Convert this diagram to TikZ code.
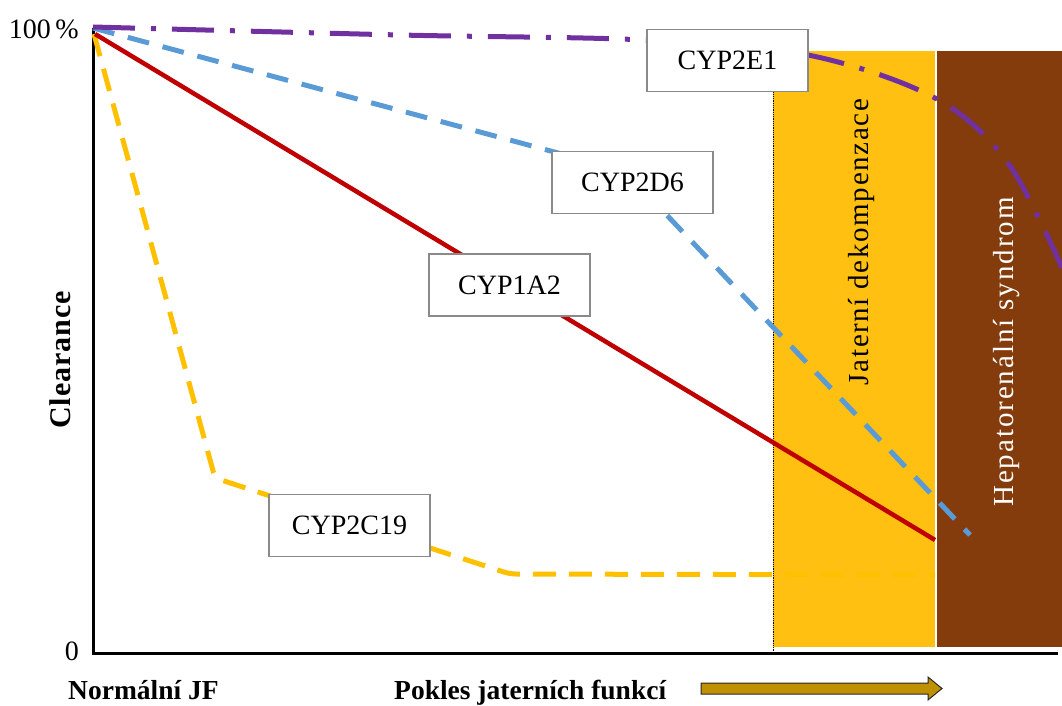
\documentclass[tikz,border=0pt]{standalone}
\usepackage{fontspec}
\setmainfont{Liberation Serif}
\definecolor{cred}{HTML}{C00000}
\definecolor{cblue}{HTML}{5B9BD5}
\definecolor{cyel}{HTML}{FFC000}
\definecolor{cpur}{HTML}{7030A0}
\definecolor{bandY}{HTML}{FFC012}
\definecolor{bandB}{HTML}{843C0C}
\definecolor{boxgray}{HTML}{8A8A8A}
\definecolor{arrowgold}{HTML}{BF9000}
\begin{document}
\begin{tikzpicture}[x=1pt,y=-1pt,
  lbl/.style={draw=boxgray, line width=1.6pt, fill=white, minimum width=161pt, minimum height=62pt, inner sep=0pt, font=\fontsize{28}{30}\selectfont},
  axisline/.style={line width=3pt, black},
  redline/.style={cred, line width=4.5pt},
  blueline/.style={cblue, line width=5pt, dash pattern=on 22pt off 14pt, rounded corners=6pt},
  yelline/.style={cyel, line width=5pt, dash pattern=on 23pt off 13pt, rounded corners=6pt},
  purline/.style={cpur, line width=5pt, dash pattern=on 42pt off 16pt on 5pt off 16pt},
  ticklbl/.style={font=\fontsize{28}{30}\selectfont, inner sep=0pt},
  bottomlbl/.style={font=\fontsize{27.5}{30}\selectfont\bfseries, inner sep=0pt, anchor=base west},
  bandlbl/.style={inner sep=0pt, anchor=base, rotate=90},
  arrowbody/.style={fill=arrowgold, draw=black!85, line width=1pt, line join=miter}
]
\useasboundingbox (0,0) rectangle (1062,706);
% bands
\fill[bandY] (773,51) rectangle (935,647);
\fill[bandB] (937,51) rectangle (1062,647);
\draw[densely dotted, line width=0.8pt] (773,51) -- (773,653);
% axes
\coordinate (top) at (93,28);
\coordinate (O) at (93,653);
\coordinate (xend) at (1058,653);
\draw[axisline] (top) -- (O) -- (xend);
% data points
\coordinate (r0) at (95,34);
\coordinate (r1) at (935,540);
\coordinate (b0) at (93,28);
\coordinate (b1) at (625,171);
\coordinate (b2) at (970,535);
\coordinate (y0) at (94,34);
\coordinate (y1) at (215,478);
\coordinate (y2) at (510,574);
\coordinate (y3) at (935,575);
\coordinate (p0) at (93,27);
\coordinate (p1) at (400,35);
\coordinate (p2) at (645,40);
\coordinate (p3) at (808,55);
\coordinate (p4) at (935,98);
\coordinate (p5) at (1008,163);
\coordinate (p6) at (1062,268);
% curves
\draw[yelline] (y0) -- (y1) -- (y2) -- (y3);
\draw[redline] (r0) -- (r1);
\draw[blueline] (b0) -- (b1) -- (b2);
\draw[purline] plot[smooth, tension=0.55] coordinates {(p0) (p1) (p2) (p3) (p4) (p5) (p6)};
% labels
\node[lbl] (e1) at (727.5,60.5) {CYP2E1};
\node[lbl] (d6) at (632.5,182.5) {CYP2D6};
\node[lbl] (a2) at (509.5,285) {CYP1A2};
\node[lbl] (c19) at (349.5,525.5) {CYP2C19};
% axis labels
\node[ticklbl, anchor=base east] (hundred) at (79,39) {100\,\%};
\node[ticklbl, anchor=base east] (zero) at (79,660) {0};
\node[inner sep=0pt, anchor=base, rotate=90, font=\fontsize{30}{32}\selectfont\bfseries\addfontfeature{LetterSpace=3}] (clr) at (70,360) {Clearance};
\node[bottomlbl] (njf) at (68,699) {Normální JF};
\node[bottomlbl] (pokles) at (394,699) {Pokles jaterních funkcí};
\draw[arrowbody] (701,683) -- (928,683) -- (928,677) -- (942,688.5) -- (928,700) -- (928,694) -- (701,694) -- cycle;
% band labels
\node[bandlbl, font=\fontsize{29}{31}\selectfont\addfontfeature{LetterSpace=5.6}] (jd) at (868,242) {Jaterní dekompenzace};
\node[bandlbl, text=white, font=\fontsize{29}{31}\selectfont\addfontfeature{LetterSpace=6.6}] (hs) at (1013,352) {Hepatorenální syndrom};
\end{tikzpicture}
\end{document}
